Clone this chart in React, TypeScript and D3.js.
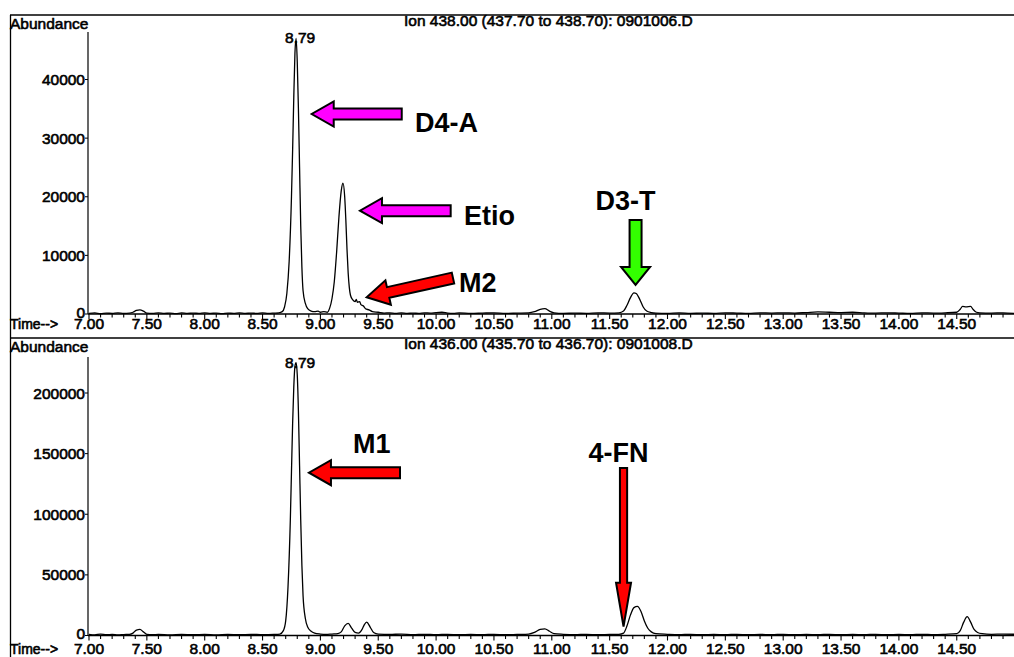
import React from 'react';
import * as d3 from 'd3';

// chromatogram traces: [time (min), abundance]
const topTrace: [number, number][] = [
  [7.0, 100], [7.05, 200], [7.1, 50], [7.15, 150], [7.2, 100], [7.25, 200], [7.3, 100], [7.35, 150],
  [7.38, 300], [7.41, 600], [7.44, 700], [7.47, 500], [7.5, 150], [7.55, 100], [7.6, 200], [7.65, 100],
  [7.7, 150], [7.75, 50], [7.8, 200], [7.85, 100], [7.9, 150], [7.95, 100], [8.0, 200], [8.05, 100],
  [8.1, 150], [8.15, 50], [8.2, 150], [8.25, 100], [8.3, 200], [8.35, 100], [8.4, 150], [8.45, 100],
  [8.5, 200], [8.55, 100], [8.6, 150], [8.64, 200], [8.67, 400], [8.69, 1200], [8.71, 3500], [8.73, 9000],
  [8.75, 20000], [8.76, 28000], [8.77, 37000], [8.78, 44500], [8.79, 47000], [8.8, 43000], [8.81, 35000],
  [8.82, 25000], [8.83, 15000], [8.84, 8000], [8.85, 4000], [8.87, 1800], [8.89, 900], [8.92, 500],
  [8.95, 400], [8.98, 500], [9.0, 300], [9.03, 400], [9.06, 300], [9.08, 1000], [9.1, 2600], [9.12, 5500],
  [9.14, 10500], [9.16, 16500], [9.18, 21000], [9.195, 22300], [9.21, 20000], [9.22, 16000], [9.23, 11000],
  [9.24, 7000], [9.25, 4500], [9.26, 3200], [9.28, 2400], [9.3, 2100], [9.31, 2500], [9.32, 2000],
  [9.34, 2100], [9.35, 1600], [9.37, 1400], [9.39, 900], [9.42, 700], [9.45, 400], [9.5, 300], [9.55, 150],
  [9.6, 200], [9.65, 100], [9.7, 200], [9.75, 100], [9.8, 150], [9.85, 100], [9.9, 200], [9.95, 150],
  [10.0, 250], [10.05, 300], [10.1, 150], [10.15, 100], [10.2, 200], [10.3, 100], [10.4, 150], [10.5, 200],
  [10.6, 100], [10.7, 150], [10.8, 200], [10.85, 400], [10.9, 800], [10.94, 900], [10.98, 500], [11.02, 200],
  [11.1, 100], [11.2, 150], [11.3, 100], [11.4, 200], [11.5, 150], [11.58, 200], [11.62, 500], [11.65, 1500],
  [11.68, 2800], [11.71, 3600], [11.73, 3500], [11.76, 2500], [11.79, 1200], [11.82, 500], [11.86, 250],
  [11.9, 150], [12.0, 100], [12.1, 200], [12.2, 100], [12.3, 150], [12.4, 100], [12.5, 200], [12.6, 150],
  [12.7, 100], [12.8, 200], [12.9, 150], [13.0, 200], [13.1, 150], [13.2, 250], [13.3, 350], [13.4, 300],
  [13.5, 250], [13.6, 300], [13.7, 200], [13.8, 150], [13.9, 200], [14.0, 150], [14.1, 100], [14.2, 200],
  [14.3, 150], [14.4, 200], [14.5, 300], [14.53, 800], [14.55, 1300], [14.58, 1200], [14.62, 1300],
  [14.64, 800], [14.67, 300], [14.7, 200], [14.8, 150], [14.9, 200], [15.0, 100],
];

const bottomTrace: [number, number][] = [
  [7.0, 1000], [7.05, 500], [7.1, 1200], [7.15, 600], [7.2, 1000], [7.25, 500], [7.3, 800], [7.35, 1000],
  [7.38, 2000], [7.41, 4500], [7.44, 5000], [7.47, 3000], [7.5, 1000], [7.55, 600], [7.6, 1000], [7.7, 500],
  [7.8, 900], [7.9, 600], [8.0, 1000], [8.1, 500], [8.2, 900], [8.3, 600], [8.4, 1000], [8.5, 700],
  [8.6, 900], [8.65, 1200], [8.68, 4000], [8.7, 12000], [8.72, 40000], [8.74, 95000], [8.75, 135000],
  [8.76, 175000], [8.77, 205000], [8.78, 222000], [8.79, 225000], [8.8, 215000], [8.81, 185000],
  [8.82, 140000], [8.83, 95000], [8.84, 58000], [8.85, 33000], [8.87, 14000], [8.89, 7000], [8.92, 3500],
  [8.95, 2000], [9.0, 1200], [9.05, 900], [9.1, 1200], [9.15, 1500], [9.18, 3000], [9.21, 8000],
  [9.24, 10000], [9.27, 6000], [9.3, 2500], [9.33, 2000], [9.36, 5000], [9.38, 9000], [9.4, 11000],
  [9.43, 7000], [9.46, 2500], [9.5, 1200], [9.6, 900], [9.7, 1200], [9.8, 700], [9.9, 1000], [10.0, 700],
  [10.1, 1000], [10.2, 600], [10.3, 900], [10.4, 700], [10.5, 1000], [10.6, 600], [10.7, 900], [10.8, 1200],
  [10.85, 2500], [10.9, 5000], [10.94, 5500], [10.98, 3500], [11.02, 1500], [11.1, 1000], [11.2, 700],
  [11.3, 1000], [11.4, 600], [11.5, 900], [11.58, 1000], [11.62, 2000], [11.65, 8000], [11.68, 17000],
  [11.71, 23000], [11.74, 24000], [11.77, 20000], [11.8, 12000], [11.83, 6000], [11.86, 3000], [11.9, 1500],
  [12.0, 1000], [12.1, 700], [12.2, 1000], [12.3, 600], [12.4, 900], [12.5, 700], [12.6, 1000], [12.7, 600],
  [12.8, 900], [12.9, 700], [13.0, 1000], [13.1, 600], [13.2, 900], [13.3, 700], [13.4, 1000], [13.5, 600],
  [13.6, 900], [13.7, 700], [13.8, 1000], [13.9, 600], [14.0, 900], [14.1, 700], [14.2, 1000], [14.3, 700],
  [14.4, 1000], [14.5, 1500], [14.53, 4000], [14.56, 11000], [14.59, 15500], [14.62, 11000], [14.65, 5000],
  [14.68, 2500], [14.72, 1500], [14.8, 1000], [14.9, 1200], [15.0, 1000],
];

const topYTicks = [0, 10000, 20000, 30000, 40000];
const bottomYTicks = [0, 50000, 100000, 150000, 200000];
const xTickLabels = ['7.00', '7.50', '8.00', '8.50', '9.00', '9.50', '10.00', '10.50', '11.00', '11.50', '12.00', '12.50', '13.00', '13.50', '14.00', '14.50'];
const titles = ['Ion 438.00 (437.70 to 438.70): 0901006.D', 'Ion 436.00 (435.70 to 436.70): 0901008.D'];

// arrow annotations in data units: tip, tail, label anchor
const topNotes = [
  { label: 'D4-A', color: '#ff00ff', tip: [8.925, 34115], tail: [9.703, 34115], text: [9.818, 31060], anchor: 'start', kind: 'wide' },
  { label: 'Etio', color: '#ff00ff', tip: [9.342, 17630], tail: [10.126, 17630], text: [10.241, 15190], anchor: 'start', kind: 'wide' },
  { label: 'M2', color: '#ff0000', tip: [9.4, 2850], tail: [10.146, 6140], text: [10.198, 3750], anchor: 'start', kind: 'wide' },
  { label: 'D3-T', color: '#33ff00', tip: [11.724, 4950], tail: [11.724, 16040], text: [11.638, 17750], anchor: 'middle', kind: 'stubby' },
];
const bottomNotes = [
  { label: 'M1', color: '#ff0000', tip: [8.901, 134268], tail: [9.688, 134268], text: [9.282, 150515], anchor: 'start', kind: 'wide' },
  { label: '4-FN', color: '#ff0000', tip: [11.62, 7258], tail: [11.62, 138144], text: [11.577, 143093], anchor: 'middle', kind: 'thin' },
];

const arrowSizes: Record<string, { sw: number; hw: number; hl: number }> = {
  wide: { sw: 5.5, hw: 12.5, hl: 22 },
  stubby: { sw: 6, hw: 14.5, hl: 18 },
  thin: { sw: 3.6, hw: 7.5, hl: 44 },
};

const W = 1014;
const H = 657;
const FONT = '"Liberation Sans", Arial, Helvetica, sans-serif';

const xScale = d3.scaleLinear().domain([7, 15]).range([89, 89 + 8 * 115.7]);
const minorTicks = d3.range(70, 151).map((v) => v / 10);

function arrowPoints(x1: number, y1: number, x2: number, y2: number, sw: number, hw: number, hl: number) {
  const dx = x2 - x1, dy = y2 - y1;
  const len = Math.hypot(dx, dy);
  const ux = dx / len, uy = dy / len;
  const px = -uy, py = ux;
  const nx = x2 - ux * hl, ny = y2 - uy * hl;
  const pts = [
    [x1 + px * sw, y1 + py * sw],
    [nx + px * sw, ny + py * sw],
    [nx + px * hw, ny + py * hw],
    [x2, y2],
    [nx - px * hw, ny - py * hw],
    [nx - px * sw, ny - py * sw],
    [x1 - px * sw, y1 - py * sw],
  ];
  return pts.map((p) => p.join(',')).join(' ');
}

// scanned print looks heavy, so thicken the regular text a little
const txt = { fontFamily: FONT, fill: '#000', stroke: '#000', strokeWidth: 0.6 };

function Panel({ trace, yTicks, refVal, zeroY, refY, frameY, axisTop, tickBase, title, notes }: any) {
  const y = d3.scaleLinear().domain([0, refVal]).range([zeroY, refY]);
  const line = d3.line<[number, number]>()
    .x((d) => xScale(d[0]))
    .y((d) => y(d[1]))
    .curve(d3.curveMonotoneX);
  const apex = d3.greatest(trace as [number, number][], (d) => d[1])!;
  const x0 = xScale.range()[0] - 1;

  return (
    <g>
      <line x1={10} x2={W} y1={frameY} y2={frameY} stroke="#000" strokeWidth={1.4} />
      <text x={10} y={frameY + 14} fontSize={15.5} {...txt}>Abundance</text>
      <text x={404} y={frameY + 10.5} fontSize={15.5} {...txt}>{title}</text>

      {/* y axis */}
      <line x1={x0} x2={x0} y1={axisTop} y2={zeroY} stroke="#000" strokeWidth={1.2} />
      {yTicks.map((v: number) => (
        <g key={v}>
          <line x1={x0 - 3} x2={x0} y1={y(v)} y2={y(v)} stroke="#000" strokeWidth={1} />
          <text x={85} y={y(v) + (v === 0 ? 3.5 : 5.5)} fontSize={15.5} textAnchor="end" {...txt}>{v}</text>
        </g>
      ))}

      {/* x axis */}
      <line x1={x0} x2={W} y1={zeroY} y2={zeroY} stroke="#000" strokeWidth={1.4} />
      {minorTicks.map((t) => (
        <line key={t} x1={xScale(t)} x2={xScale(t)} y1={zeroY} y2={zeroY + (Math.round(t * 10) % 5 === 0 ? 5 : 3.5)} stroke="#000" strokeWidth={1.1} />
      ))}
      <text x={10} y={tickBase} fontSize={14} {...txt}>Time--&gt;</text>
      {xTickLabels.map((l) => (
        <text key={l} x={xScale(+l)} y={tickBase} fontSize={15.5} textAnchor="middle" {...txt}>{l}</text>
      ))}

      {/* apex label */}
      <text x={xScale(apex[0]) + 4} y={y(apex[1]) + 5} fontSize={15.5} textAnchor="middle" {...txt}>{apex[0].toFixed(2)}</text>

      <path d={line(trace) || ''} fill="none" stroke="#000" strokeWidth={1.3} strokeLinejoin="round" />

      {notes.map((n: any) => {
        const s = arrowSizes[n.kind];
        return (
          <g key={n.label}>
            <polygon
              points={arrowPoints(xScale(n.tail[0]), y(n.tail[1]), xScale(n.tip[0]), y(n.tip[1]), s.sw, s.hw, s.hl)}
              fill={n.color}
              stroke="#000"
              strokeWidth={2}
              strokeLinejoin="miter"
            />
            <text x={xScale(n.text[0])} y={y(n.text[1])} fontSize={27} fontWeight="bold" textAnchor={n.anchor} fontFamily={FONT} fill="#000">
              {n.label}
            </text>
          </g>
        );
      })}
    </g>
  );
}

export default function App() {
  return (
    <svg width={W} height={H} style={{ position: 'absolute', left: 0, top: 0, background: '#fff' }}>
      <rect width={W} height={H} fill="#fff" />
      <line x1={10.5} x2={10.5} y1={15} y2={H} stroke="#000" strokeWidth={1.3} />
      <Panel trace={topTrace} yTicks={topYTicks} refVal={40000} zeroY={314} refY={79.5} frameY={15} axisTop={32} tickBase={329} title={titles[0]} notes={topNotes} />
      <Panel trace={bottomTrace} yTicks={bottomYTicks} refVal={200000} zeroY={635.5} refY={393} frameY={338} axisTop={357} tickBase={654} title={titles[1]} notes={bottomNotes} />
    </svg>
  );
}
